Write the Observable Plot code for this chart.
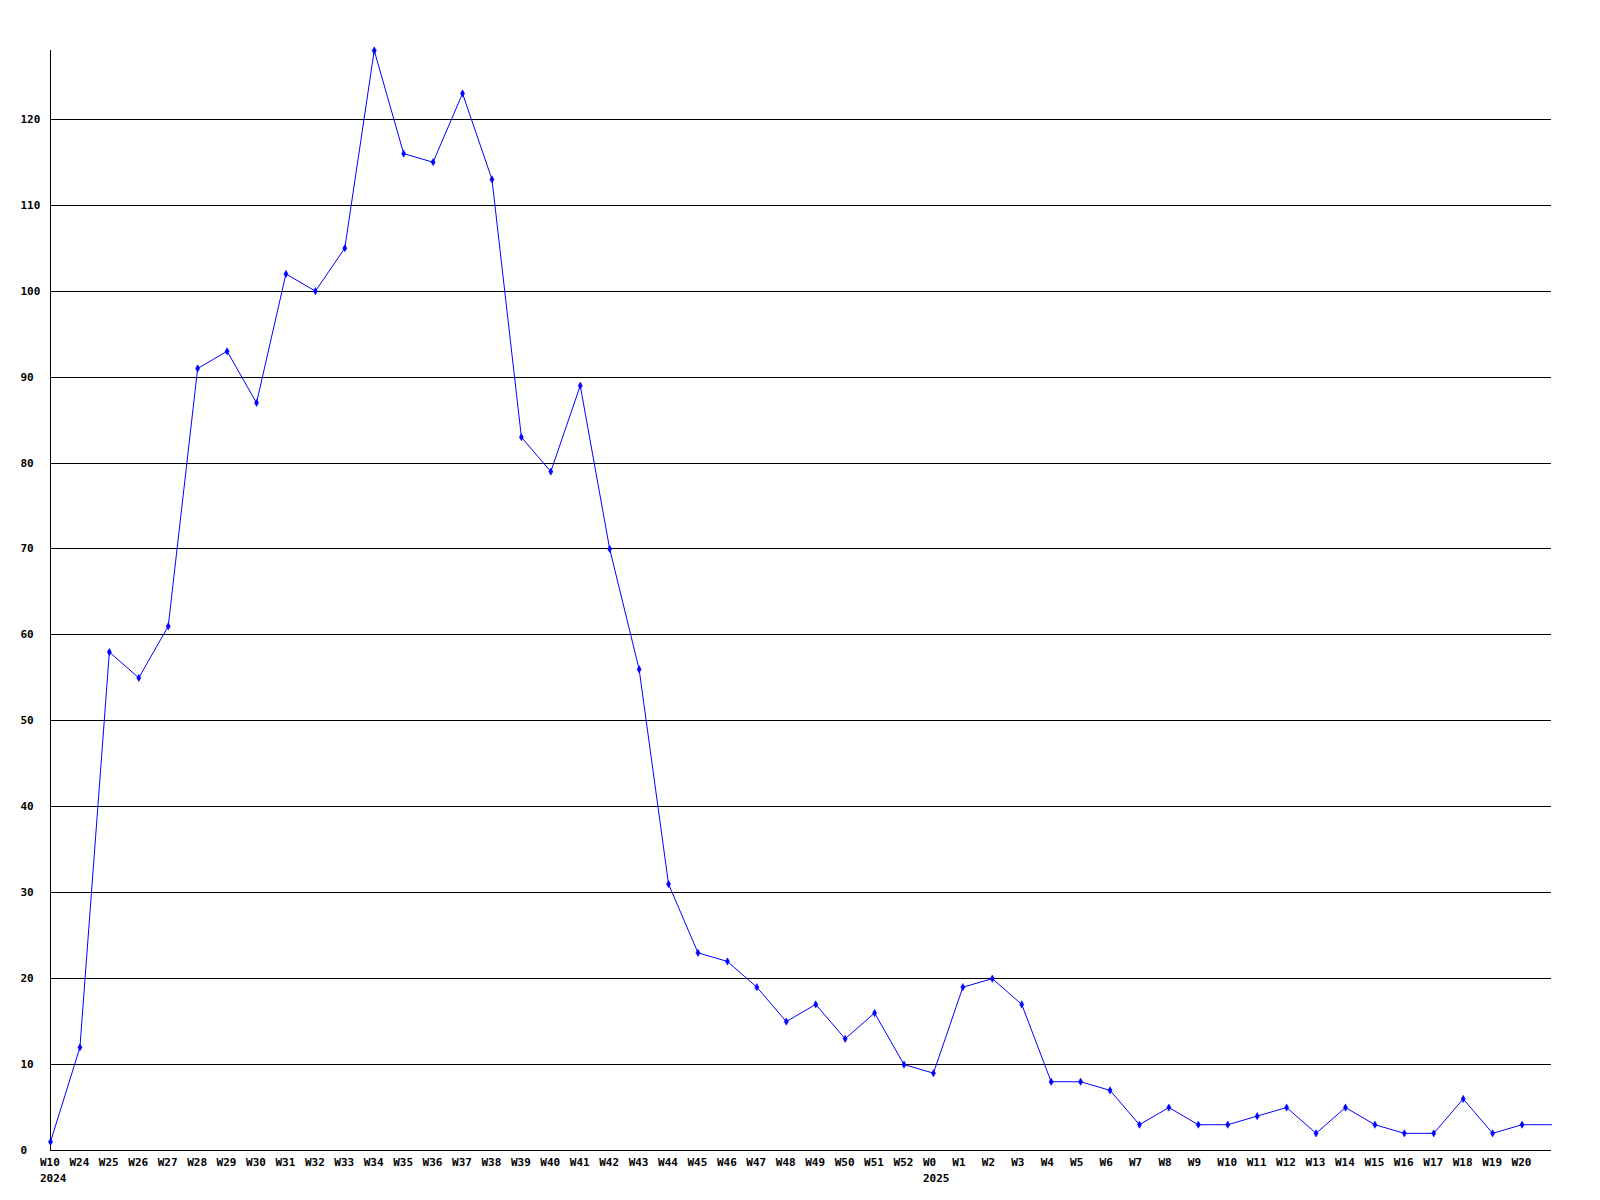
<!DOCTYPE html>
<html>
<head>
<meta charset="utf-8">
<script src="https://cdn.jsdelivr.net/npm/d3@7"></script>
<script src="https://cdn.jsdelivr.net/npm/@observablehq/plot@0.6"></script>
<style>
  html, body { margin: 0; padding: 0; background: #fff; }
  #chart svg { display: block; }
</style>
</head>
<body>
<div id="chart"></div>
<script>
// Week labels (last entry: unlabeled continuation to the right edge)
const weeks = ["W10","W24","W25","W26","W27","W28","W29","W30","W31","W32","W33","W34","W35","W36","W37","W38","W39","W40","W41","W42","W43","W44","W45","W46","W47","W48","W49","W50","W51","W52","W0","W1","W2","W3","W4","W5","W6","W7","W8","W9","W10","W11","W12","W13","W14","W15","W16","W17","W18","W19","W20",""];
const values = [1,12,58,55,61,91,93,87,102,100,105,128,116,115,123,113,83,79,89,70,56,31,23,22,19,15,17,13,16,10,9,19,20,17,8,8,7,3,5,3,3,4,5,2,5,3,2,2,6,2,3,3];
const yearLabels = ["2024","2025"];
const yearStartIndex = [0, 30];
const yTicks = [0,10,20,30,40,50,60,70,80,90,100,110,120];

const data = values.map((v, i) => ({i, v, w: weeks[i]}));
const markers = data.filter(d => d.w !== "");
const labels = data.filter(d => d.w !== "");
const years = yearLabels.map((y, k) => ({i: yearStartIndex[k], y}));

const font = "'DejaVu Sans Mono', monospace";

const plot = Plot.plot({
  width: 1600,
  height: 1200,
  marginLeft: 50,
  marginRight: 49,
  marginTop: 50,
  marginBottom: 50,
  style: {fontFamily: font, fontSize: "11px", fontWeight: "bold", background: "#fff"},
  x: {type: "linear", domain: [0, weeks.length - 1], axis: null},
  y: {domain: [0, 128], axis: null},
  marks: [
    Plot.ruleY(yTicks.filter(t => t > 0), {x1: 0, x2: weeks.length - 1, stroke: "#000", strokeWidth: 1, shapeRendering: "crispEdges"}),
    Plot.ruleY([0], {x1: 0, x2: weeks.length - 1, stroke: "#000", strokeWidth: 1.5, shapeRendering: "crispEdges"}),
    Plot.ruleX([0], {y1: 0, y2: 128, stroke: "#000", strokeWidth: 1.5, shapeRendering: "crispEdges"}),
    Plot.text(yTicks, {y: d => d, frameAnchor: "left", dx: -30, textAnchor: "start", lineAnchor: "middle", text: d => String(d), fill: "#000", fontWeight: "bold"}),
    Plot.line(data, {x: "i", y: "v", stroke: "#0000ff", strokeWidth: 1}),
    Plot.dot(markers, {x: "i", y: "v", symbol: "diamond", r: 2.2, fill: "#0000ff", stroke: "#0000ff", strokeWidth: 0.5}),
    Plot.text(labels, {x: "i", frameAnchor: "bottom", lineAnchor: "middle", dy: 12, dx: -10.5, text: "w", textAnchor: "start", fill: "#000", fontWeight: "bold"}),
    Plot.text(years, {x: "i", frameAnchor: "bottom", lineAnchor: "middle", dy: 27.5, dx: -10.5, text: "y", textAnchor: "start", fill: "#000", fontWeight: "bold"})
  ]
});
document.getElementById("chart").appendChild(plot);
</script>
</body>
</html>
